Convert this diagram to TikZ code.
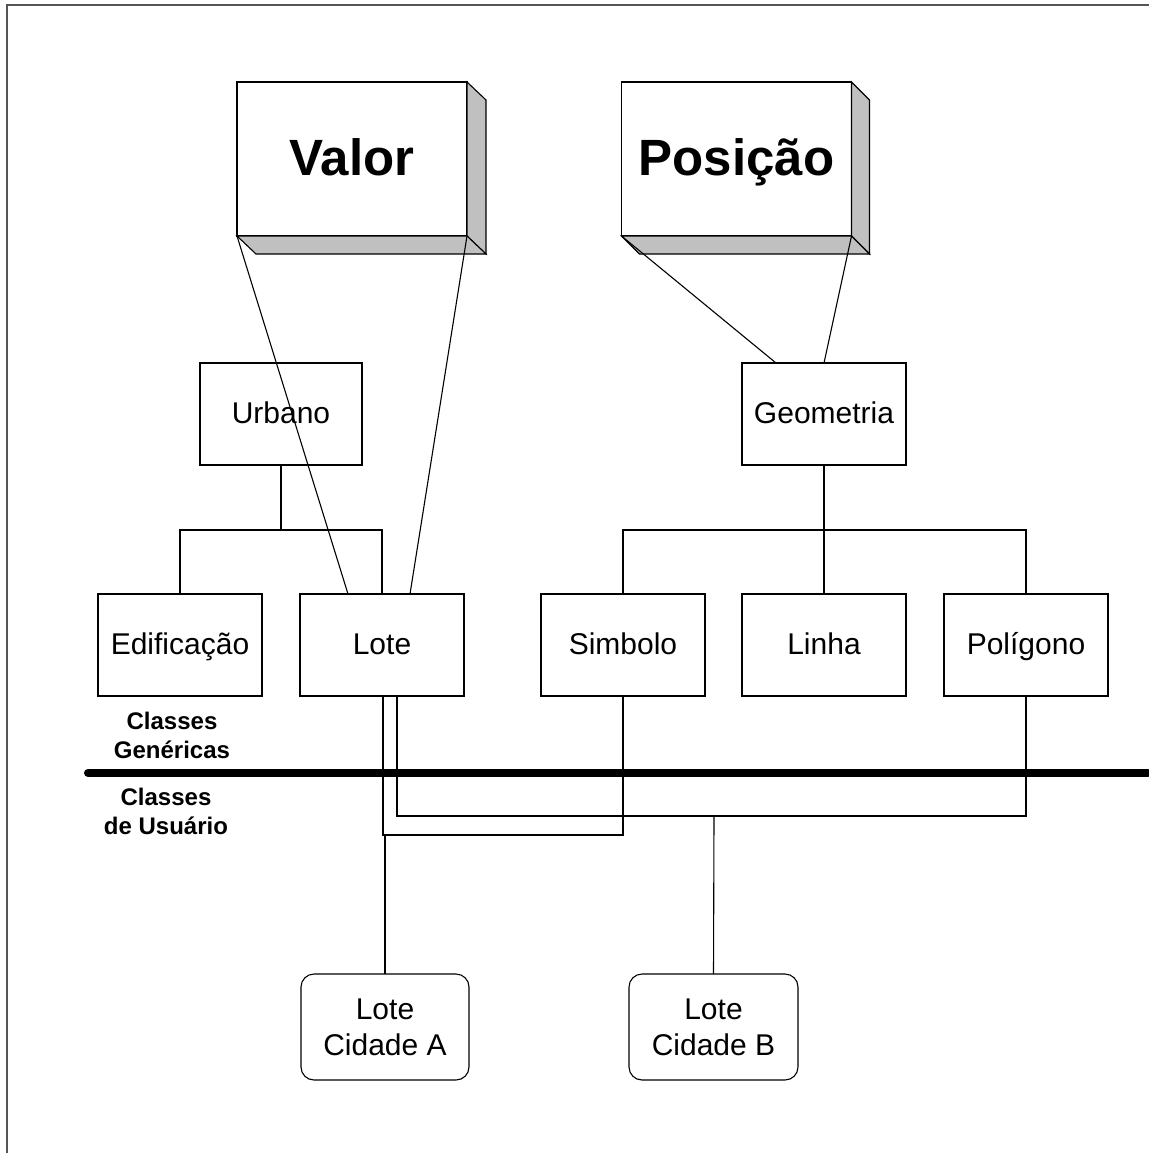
\documentclass[tikz,border=0pt]{standalone}
\usepackage{fontspec}
\setmainfont{Liberation Sans}
\usetikzlibrary{calc}
\definecolor{facegray}{HTML}{C0C0C0}
\definecolor{framegray}{HTML}{555555}
\begin{document}
\begin{tikzpicture}[x=1pt,y=-1pt,
  every node/.style={outer sep=0pt,inner sep=0pt},
  conn/.style={line width=1.1pt,black},
  bigbox/.style={draw,line width=1.1pt,fill=white,minimum width=230pt,minimum height=154pt,
    font=\bfseries\fontsize{51}{60}\selectfont,text height=40pt,text depth=8pt},
  face/.style={fill=facegray,draw=black,line width=1.1pt,line join=miter},
  classbox/.style={draw,line width=1.1pt,minimum width=164pt,minimum height=102pt,
    font=\fontsize{30}{36}\selectfont,text height=23pt,text depth=5pt},
  userbox/.style={draw,line width=1.1pt,rounded corners=13pt,minimum width=168pt,minimum height=106pt,
    align=center,font=\fontsize{30}{36}\selectfont},
  lab/.style={align=center,font=\bfseries\fontsize{24}{28.5}\selectfont}
]
\useasboundingbox (0,0) rectangle (1148,1153);
% frame
\draw[line width=2pt,framegray] (7,1160) -- (7,5) -- (1160,5);

% 3D boxes
\node[bigbox] (valor) at (352,159) {Valor};
\fill[face] (valor.north east) -- ($(valor.north east)+(19,18)$) -- ($(valor.south east)+(19,18)$) -- (valor.south east) -- cycle;
\fill[face] (valor.south west) -- (valor.south east) -- ($(valor.south east)+(19,18)$) -- ($(valor.south west)+(19,18)$) -- cycle;

\node[bigbox] (posicao) at (736.5,159) {Posição};
\fill[face] (posicao.north east) -- ($(posicao.north east)+(18,18)$) -- ($(posicao.south east)+(18,18)$) -- (posicao.south east) -- cycle;
\fill[face] (posicao.south west) -- (posicao.south east) -- ($(posicao.south east)+(18,18)$) -- ($(posicao.south west)+(18,18)$) -- cycle;

% class boxes
\node[classbox,minimum width=162pt] (urbano) at (281,414) {Urbano};
\node[classbox] (geom) at (824,414) {Geometria};
\node[classbox] (edif) at (180,645) {Edificação};
\node[classbox] (lote) at (382,645) {Lote};
\node[classbox] (simb) at (623,645) {Simbolo};
\node[classbox] (linha) at (824,645) {Linha};
\node[classbox] (polig) at (1026,645) {Polígono};

% user boxes
\node[userbox] (cidA) at (385,1027) {Lote\\Cidade A};
\node[userbox,minimum width=169pt] (cidB) at (713.5,1027) {Lote\\Cidade B};

% labels
\node[lab] (generic) at (172,735.5) {Classes\\Genéricas};
\node[lab] (user) at (166,811.5) {Classes\\de Usuário};

% separator
\draw[line width=8pt,line cap=round] (88,773) -- (1148,773);

% projection lines
\draw[conn] (valor.south west) -- ($(lote.north)+(-34,0)$);
\draw[conn] (valor.south east) -- ($(lote.north)+(28,0)$);
\draw[conn] (posicao.south west) -- ($(geom.north)+(-48,0)$);
\draw[conn] (posicao.south east) -- (geom.north);

% generalisation trees
\coordinate (u1) at ($(urbano.south)+(0,65)$);
\draw[conn] (urbano.south) -- (u1);
\draw[conn] (edif.north) |- (u1) -| (lote.north);
\coordinate (g1) at ($(geom.south)+(0,65)$);
\draw[conn] (geom.south) -- (linha.north);
\draw[conn] (simb.north) |- (g1) -| (polig.north);

% user class links
\coordinate (ca) at (385,835);
\coordinate (cb) at (714,816);
\draw[conn] ($(lote.south)+(1,0)$) |- (ca) -| (simb.south);
\draw[conn] ($(lote.south)+(15,0)$) |- (cb) -| (polig.south);
\draw[conn] (cidA.north) -- (ca);
\draw[conn] (cidB.north) -- (cb);
\end{tikzpicture}
\end{document}
